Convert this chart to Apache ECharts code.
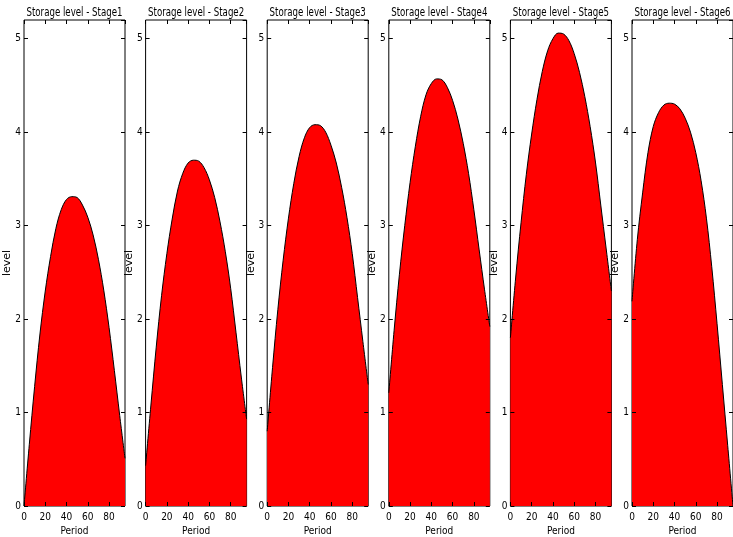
<!DOCTYPE html>
<html>
<head>
<meta charset="utf-8">
<script src="https://cdn.jsdelivr.net/npm/echarts@6/dist/echarts.min.js"></script>
<style>html,body{margin:0;padding:0;background:#fff;}#c{width:733px;height:537px;}</style>
</head>
<body>
<div id="c"></div>
<script>
const periods = [0,5,10,15,20,25,30,35,40,45,50,55,60,65,70,75,80,85,90,95];
const stage1 = [0.00,0.66,1.28,1.84,2.30,2.67,2.97,3.17,3.28,3.31,3.30,3.22,3.09,2.90,2.64,2.31,1.91,1.45,0.97,0.51];
const stage2 = [0.43,1.08,1.70,2.25,2.70,3.07,3.37,3.56,3.67,3.70,3.69,3.62,3.49,3.30,3.04,2.72,2.33,1.86,1.38,0.93];
const stage3 = [0.80,1.48,2.10,2.63,3.08,3.45,3.74,3.94,4.05,4.08,4.07,4.00,3.86,3.67,3.41,3.09,2.70,2.23,1.76,1.30];
const stage4 = [1.21,1.88,2.48,3.00,3.46,3.85,4.17,4.40,4.52,4.57,4.56,4.48,4.34,4.14,3.88,3.56,3.17,2.74,2.32,1.92];
const stage5 = [1.80,2.45,3.03,3.55,3.98,4.35,4.65,4.87,5.00,5.06,5.05,4.98,4.84,4.64,4.38,4.06,3.68,3.22,2.76,2.30];
const stage6 = [2.19,2.85,3.35,3.78,4.06,4.21,4.29,4.31,4.30,4.25,4.15,4.00,3.78,3.48,3.08,2.56,1.95,1.30,0.65,0.00];
const stageTitles = ['Storage level - Stage1','Storage level - Stage2','Storage level - Stage3','Storage level - Stage4','Storage level - Stage5','Storage level - Stage6'];
const xAxisName = 'Period';
const yAxisName = 'level';

const allStages = [stage1, stage2, stage3, stage4, stage5, stage6];
const FONT_C = "'DejaVu Sans Condensed', 'Liberation Sans Narrow', 'DejaVu Sans', sans-serif";
const FONT_R = "'DejaVu Sans', sans-serif";
const GL = [24, 145.6, 267.2, 388.8, 510.4, 632];
const GT = 20, GW = 101, GH = 486;

const chart = echarts.init(document.getElementById('c'), null, {renderer: 'canvas'});
function tick() { return {show: true, inside: true, length: 4, lineStyle: {color: '#000', width: 1}}; }
const option = {
  animation: false,
  backgroundColor: '#fff',
  graphic: stageTitles.map((t, i) => ({
    type: 'text', x: GL[i] + GW / 2, y: 13, scaleX: 0.72, z: 10,
    style: {text: t, fontFamily: FONT_R, fontSize: 12, fill: '#000', align: 'center', verticalAlign: 'middle'}
  })),
  grid: GL.map(l => ({left: l, top: GT, width: GW, height: GH, show: true, borderColor: '#000', borderWidth: 1,
    backgroundColor: 'transparent', containLabel: false, outerBoundsMode: 'none'})),
  xAxis: [],
  yAxis: [],
  series: []
};
GL.forEach((l, i) => {
  option.xAxis.push({
    gridIndex: i, type: 'value', position: 'bottom', min: 0, max: 95, interval: 20, z: 5,
    axisLine: {show: false, onZero: false}, axisTick: tick(), splitLine: {show: false},
    axisLabel: {showMaxLabel: false, fontFamily: FONT_C, fontSize: 10, color: '#000', margin: 6},
    name: xAxisName, nameLocation: 'middle', nameGap: 20, nameMoveOverlap: false,
    nameTextStyle: {fontFamily: FONT_C, fontSize: 10, color: '#000'}
  });
  option.xAxis.push({
    gridIndex: i, type: 'value', position: 'top', min: 0, max: 95, interval: 20, z: 5,
    axisLine: {show: false, onZero: false}, axisTick: tick(), splitLine: {show: false}, axisLabel: {show: false}
  });
  option.yAxis.push({
    gridIndex: i, type: 'value', position: 'left', min: 0, max: 5.2, interval: 1, z: 5,
    axisLine: {show: false, onZero: false}, axisTick: tick(), splitLine: {show: false},
    axisLabel: {showMaxLabel: false, fontFamily: FONT_C, fontSize: 10, color: '#000', margin: 3},
    name: yAxisName, nameLocation: 'middle', nameGap: 11, nameRotate: 90, nameMoveOverlap: false,
    nameTextStyle: {fontFamily: FONT_R, fontSize: 11, color: '#000'}
  });
  option.yAxis.push({
    gridIndex: i, type: 'value', position: 'right', min: 0, max: 5.2, interval: 1, z: 5,
    axisLine: {show: false, onZero: false}, axisTick: tick(), splitLine: {show: false}, axisLabel: {show: false}
  });
  option.series.push({
    type: 'line', xAxisIndex: i * 2, yAxisIndex: i * 2,
    data: periods.map((p, k) => [p, allStages[i][k]]),
    smooth: 0.35, showSymbol: false, symbol: 'none',
    lineStyle: {color: '#000', width: 1},
    areaStyle: {color: '#ff0000', opacity: 1},
    z: 2
  });
});
chart.setOption(option);
</script>
</body>
</html>
